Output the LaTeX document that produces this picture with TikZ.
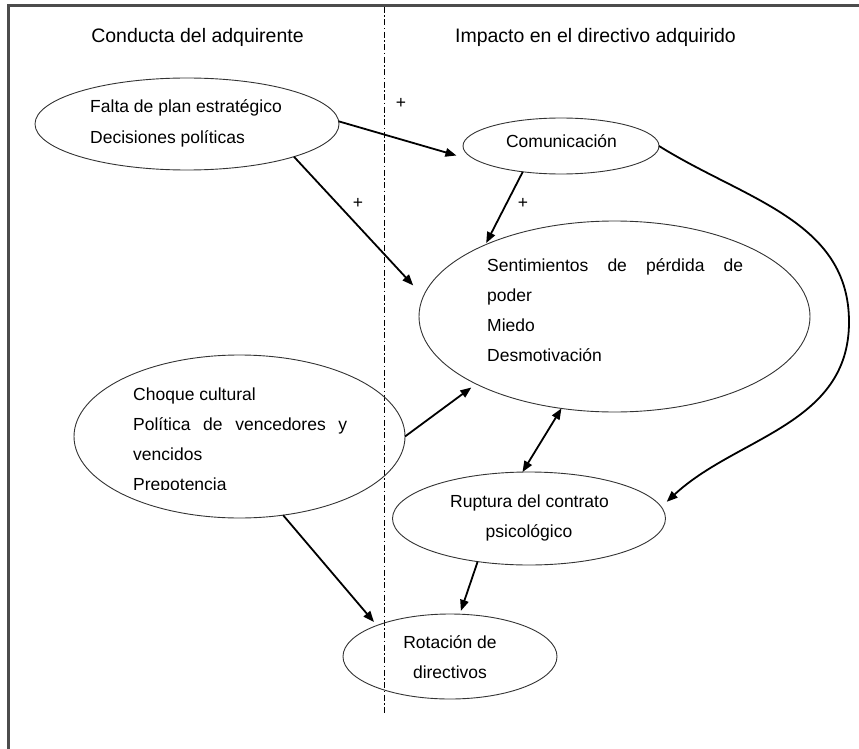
\documentclass[tikz,border=0pt]{standalone}
\usepackage{fontspec}
\setmainfont{Liberation Sans}
\usetikzlibrary{shapes.geometric,arrows.meta}
\begin{document}
\begin{tikzpicture}[x=1pt,y=1pt,
  ell/.style={draw=black!80, line width=0.9pt, ellipse, inner sep=0pt, outer sep=0pt},
  heading/.style={font=\fontsize{19.5}{23}\selectfont, inner sep=0pt, anchor=base},
  txt/.style={font=\fontsize{17.5}{21}\selectfont, inner sep=0pt, anchor=base west},
  ctxt/.style={font=\fontsize{17.5}{21}\selectfont, inner sep=0pt, anchor=base},
  sign/.style={font=\fontsize{17.5}{21}\selectfont, inner sep=0pt},
  tip/.tip={Triangle[length=11pt,width=8.5pt]},
  conn/.style={line width=1.8pt, -tip},
]
\useasboundingbox (0,0) rectangle (859,-749);

% outer frame (top and left edges)
\draw[line width=3pt, black!70, line join=miter] (859,-6) -- (8,-6) -- (8,-749);

% column divider
\draw[line width=0.9pt, dash pattern=on 6pt off 2.5pt on 1.5pt off 2.5pt] (384,-7) -- (384,-714);

% column headings
\node[heading] (h1) at (197.5,-43) {Conducta del adquirente};
\node[heading] (h2) at (595.5,-43) {Impacto en el directivo adquirido};

% ellipses
\node[ell, minimum width=304pt, minimum height=92pt] (e1) at (187,-124) {};
\node[ell, minimum width=196pt, minimum height=56pt] (com) at (561,-146) {};
\node[ell, minimum width=391pt, minimum height=191pt] (sent) at (614.5,-316.5) {};
\node[ell, minimum width=331pt, minimum height=163pt] (choq) at (239.5,-436.5) {};
\node[ell, minimum width=273pt, minimum height=93pt] (rup) at (529,-518.5) {};
\node[ell, minimum width=214pt, minimum height=85pt] (rot) at (450,-656.5) {};

% ellipse texts
\node[txt] (e1a) at (90,-113) {Falta de plan estratégico};
\node[txt] (e1b) at (90,-143) {Decisiones políticas};

\node[ctxt] (coma) at (561.5,-147) {Comunicación};

\node[txt] (s1) at (487,-271) {\makebox[256pt][s]{Sentimientos de pérdida de}};
\node[txt] (s2) at (487,-301) {poder};
\node[txt] (s3) at (487,-331) {Miedo};
\node[txt] (s4) at (487,-361) {Desmotivación};

\node[txt] (c1) at (133,-400) {Choque cultural};
\node[txt] (c2) at (133,-430.5) {\makebox[214pt][s]{Política de vencedores y}};
\node[txt] (c3) at (133,-460.5) {vencidos};
\begin{scope}
  \clip (60,-350) rectangle (420,-489);
  \node[txt] (c4) at (133,-490.5) {Prepotencia};
\end{scope}

\node[ctxt] (r1) at (529.5,-507.5) {Ruptura del contrato};
\node[ctxt] (r2) at (529,-537.5) {psicológico};

\node[ctxt] (o1) at (450,-648.3) {Rotación de};
\node[ctxt] (o2) at (450,-678.3) {directivos};

% signs
\node[sign] (p1) at (401,-103) {+};
\node[sign] (p2) at (358,-203) {+};
\node[sign] (p3) at (523,-203) {+};

% connectors
\draw[conn, shorten >=32pt] (e1.1) -- (com.194);
\draw[conn, shorten >=15pt] (e1.-17) -- (sent.174);
\draw[conn, shorten >=2pt] (com.214) -- (sent.151);
\draw[conn, shorten >=6pt] (choq.0) -- (sent.206);
\draw[line width=1.8pt, tip-tip] (sent.240) -- (rup.98);
\draw[conn, shorten >=4.5pt] (choq.-61) -- (rot.157);
\draw[conn, shorten >=3.5pt] (rup.220) -- (rot.77);
\coordinate (bend) at (849,-322);
\draw[conn, shorten >=7.5pt] (com.east) to[out=-32,in=90] (bend) to[out=-90,in=43] (rup.5);
\end{tikzpicture}
\end{document}
